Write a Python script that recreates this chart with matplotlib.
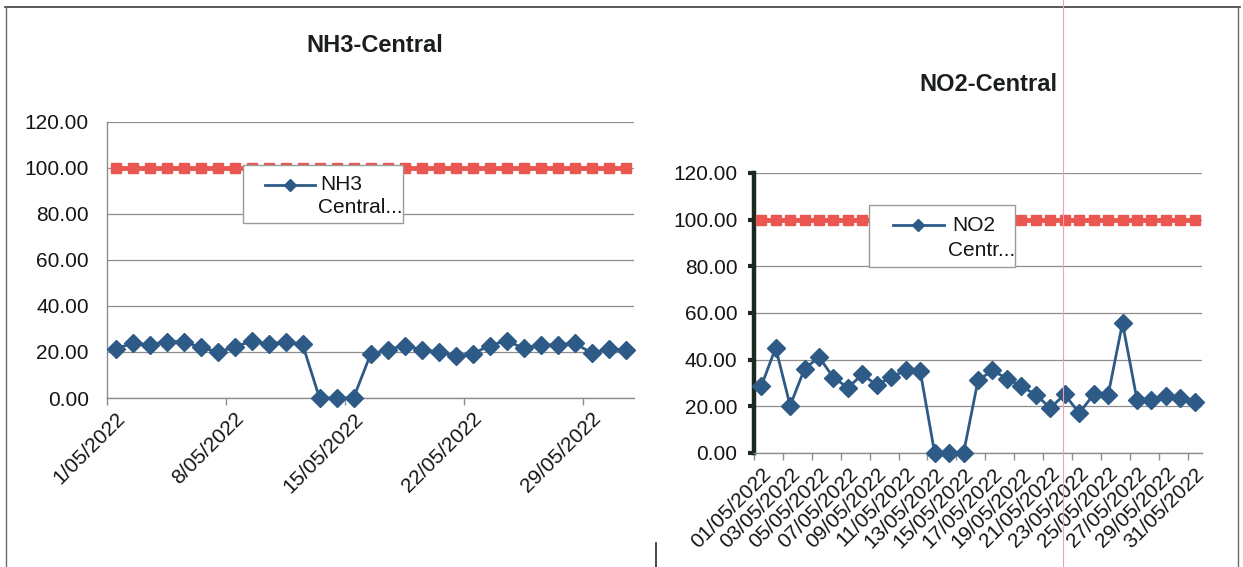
import numpy as np
import matplotlib
matplotlib.use("Agg")
import matplotlib.pyplot as plt
from matplotlib.lines import Line2D
from matplotlib.patches import Rectangle

plt.rcParams['font.family'] = ['Liberation Sans', 'DejaVu Sans']

days = list(range(1, 32))
dates_left = [f"{d}/05/2022" for d in days]
dates_right = [f"{d:02d}/05/2022" for d in days]

nh3 = [21.3, 23.8, 23.1, 24.5, 24.5, 22.0, 20.0, 22.0, 24.8, 23.4, 24.5, 23.4,
       0.0, 0.0, 0.0, 18.9, 21.0, 22.8, 21.0, 20.0, 18.2, 19.1, 22.8, 24.8,
       21.7, 23.1, 23.1, 23.8, 19.6, 21.3, 21.0]
no2 = [28.6, 45.1, 20.3, 36.1, 41.1, 32.3, 28.0, 33.7, 29.0, 32.6, 35.4, 35.1,
       0.0, 0.0, 0.0, 31.1, 35.4, 31.9, 28.6, 25.0, 19.3, 25.1, 17.1, 25.1,
       24.7, 55.7, 22.9, 22.9, 24.3, 23.6, 21.9]
limit = [100.0] * 31

left_title = "NH3-Central"
right_title = "NO2-Central"
left_legend = ["NH3", "Central..."]
right_legend = ["NO2", "Centr..."]
yticks = [0, 20, 40, 60, 80, 100, 120]

W, H = 1243, 567
fig = plt.figure(figsize=(W / 100, H / 100), dpi=100)
fig.patch.set_facecolor('white')

BLUE = '#2D5A86'
RED = '#EA5650'
GRID = '#8e8e8e'
TXT = '#151515'
FS = 15


def px_axes(x0, x1, ytop, ybot):
    return fig.add_axes([x0 / W, 1 - ybot / H, (x1 - x0) / W, (ybot - ytop) / H])


def style(ax, labels, label_step, tick_step, dark_yaxis):
    x = np.arange(1, 32)
    ax.set_xlim(0.5, 31.5)
    ax.set_ylim(0, 120)
    ax.set_yticks(yticks)
    ax.set_yticklabels([f"{v:.2f}" for v in yticks], fontsize=FS, color=TXT)
    ax.yaxis.grid(True, color=GRID, lw=0.9)
    ax.set_axisbelow(True)
    for s in ['top', 'right']:
        ax.spines[s].set_visible(False)
    ax.spines['bottom'].set_color(GRID)
    ax.spines['bottom'].set_linewidth(1.0)
    if dark_yaxis:
        ax.spines['left'].set_color('#1b2a20')
        ax.spines['left'].set_linewidth(3.2)
        ax.tick_params(axis='y', length=4, width=3, color='#1b2a20', pad=8)
    else:
        ax.spines['left'].set_color(GRID)
        ax.spines['left'].set_linewidth(1.0)
        ax.tick_params(axis='y', length=0, pad=13)
    major = x[::label_step]
    ax.set_xticks(major)
    ax.set_xticklabels([labels[i - 1] for i in major], rotation=45, ha='right',
                       va='top', rotation_mode='anchor', fontsize=FS, color=TXT)
    ax.set_xticks(np.arange(0.5, 31.6, tick_step), minor=True)
    ax.tick_params(axis='x', which='major', length=0, pad=8)
    ax.tick_params(axis='x', which='minor', length=5, width=1, color=GRID)
    return x


def draw_legend(ax, box, handle, lines):
    x0, y0, x1, y1 = box
    ax.add_patch(Rectangle((x0, y0), x1 - x0, y1 - y0, transform=ax.transAxes,
                           facecolor='white', edgecolor='#9a9a9a', lw=1.0, zorder=10))
    hx0, hx1, hy = handle
    ax.add_line(Line2D([hx0, hx1], [hy, hy], transform=ax.transAxes, color=BLUE,
                       lw=2, zorder=11))
    ax.add_line(Line2D([(hx0 + hx1) / 2], [hy], transform=ax.transAxes, color=BLUE,
                       marker='D', markersize=6, zorder=12))
    for (tx, ty, s) in lines:
        ax.text(tx, ty, s, transform=ax.transAxes, fontsize=FS, color=TXT,
                va='center', ha='left', zorder=12)


# Left chart
axL = px_axes(107, 634, 121.7, 398)
x = style(axL, dates_left, 7, 7, False)
axL.plot(x, limit, color=RED, lw=3.5, marker='s', markersize=6.5, zorder=3, clip_on=False)
axL.plot(x, nh3, color=BLUE, lw=2, marker='D', markersize=9, zorder=4, clip_on=False)
draw_legend(axL, (0.258, 0.633, 0.561, 0.842), (0.299, 0.394, 0.772),
            [(0.405, 0.772, left_legend[0]), (0.400, 0.690, left_legend[1])])
fig.text(375 / W, 1 - 45 / H, left_title, fontsize=17, fontweight='bold',
         color='#1a1f1c', ha='center', va='center')

# Right chart
axR = px_axes(754, 1202, 173, 453)
x = style(axR, dates_right, 2, 2, True)
axR.plot(x, limit, color=RED, lw=3.5, marker='s', markersize=6.5, zorder=3, clip_on=False)
axR.plot(x, no2, color=BLUE, lw=2, marker='D', markersize=9, zorder=4, clip_on=False)
draw_legend(axR, (0.257, 0.665, 0.582, 0.885), (0.311, 0.423, 0.813),
            [(0.443, 0.813, right_legend[0]), (0.432, 0.723, right_legend[1])])
fig.text(988 / W, 1 - 85 / H, right_title, fontsize=17, fontweight='bold',
         color='#1a1f1c', ha='center', va='center')

# Frame lines
def fline(xs, ys, **kw):
    fig.add_artist(Line2D([v / W for v in xs], [1 - v / H for v in ys], **kw))

fline([5, 1240], [7, 7], color='#3a3a3a', lw=1.2)
fline([6, 6], [7, 567], color='#6a6a6a', lw=1.0)
fline([1238, 1238], [7, 567], color='#6a6a6a', lw=1.0)
fline([656, 656], [543, 567], color='#2a2a2a', lw=1.2)
fline([1063, 1063], [0, 567], color='#f2a0b5', lw=0.8)

fig.savefig('out.png', dpi=100, facecolor='white')
